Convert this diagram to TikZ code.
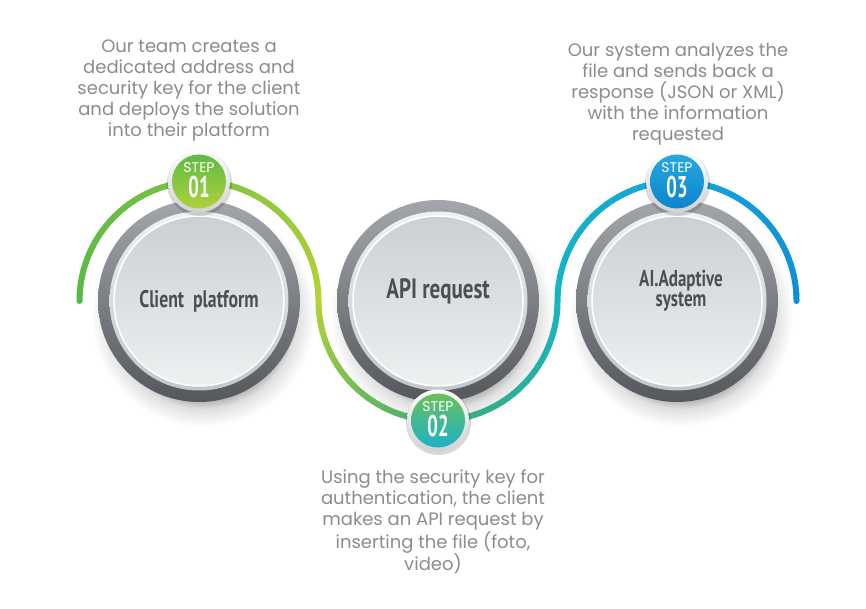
\documentclass[tikz,border=0pt]{standalone}
\usepackage{fontspec}
\usepackage{graphicx}
\newfontfamily\descfont{Poppins}
\newfontfamily\labfont{PT Sans}
\definecolor{g0}{HTML}{56B947}
\definecolor{g1}{HTML}{7CC243}
\definecolor{g2}{HTML}{B5D334}
\definecolor{g3}{HTML}{3FAA78}
\definecolor{g4}{HTML}{16B6C2}
\definecolor{g5}{HTML}{13A6D6}
\definecolor{g6}{HTML}{0E8ED8}
\definecolor{ringtop}{HTML}{A3A7AC}
\definecolor{ringbot}{HTML}{54585D}
\definecolor{bevtop}{HTML}{EEF0F1}
\definecolor{bevbot}{HTML}{C3C7CB}
\definecolor{intop}{HTML}{CBD0D4}
\definecolor{inbot}{HTML}{EEF0F1}
\definecolor{desctext}{HTML}{8C8C8C}
\definecolor{labtext}{HTML}{4B4E53}
\definecolor{bada}{HTML}{5FBB46}
\definecolor{badb}{HTML}{AED23B}
\definecolor{badc}{HTML}{6CC05A}
\definecolor{badd}{HTML}{1CB2C8}
\definecolor{bade}{HTML}{27A8E0}
\definecolor{badf}{HTML}{0B84CC}
\pgfdeclareradialshading{softshadow}{\pgfpoint{0bp}{0bp}}{color(0bp)=(black!30); color(19bp)=(black!30); color(21bp)=(black!12); color(25bp)=(white); color(50bp)=(white)}
\begin{document}
\begin{tikzpicture}[x=1pt,y=1pt,
  desc/.style={font=\descfont\fontsize{18}{21}\selectfont, text=desctext, align=center},
  lab/.style={text=labtext, align=center},
  ]
\useasboundingbox (0,0) rectangle (866,609);
\fill[white] (0,0) rectangle (866,609);
\coordinate (c1) at (199,308);
\coordinate (c2) at (438,308);
\coordinate (c3) at (677,308);
% shadows
\foreach \c in {c1,c2,c3}
  \shade[shading=softshadow] ([shift={(4,-14)}]\c) circle (112);
% gradient arc
\foreach \cx/\sa/\ea/\cA/\cB in {199/180/90/g0/g1, 199/90/0/g1/g2, 438/180/270/g2/g3, 438/270/360/g3/g4, 677/180/90/g4/g5, 677/90/0/g5/g6}{
  \foreach \k in {0,...,29}{
    \pgfmathsetmacro\aa{\sa+(\ea-\sa)*\k/30}
    \pgfmathsetmacro\ab{\sa+(\ea-\sa)*(\k+1)/30}
    \pgfmathtruncatemacro\pp{100*(\k+0.5)/30}
    \colorlet{segc}{\cB!\pp!\cA}
    \draw[segc, line width=6, line cap=round] ({\cx+119.5*cos(\aa)},{308+119.5*sin(\aa)}) arc[start angle=\aa, end angle=\ab, radius=119.5];
  }
}
% circles
\foreach \c in {c1,c2,c3}{
  \shade[top color=ringtop, bottom color=ringbot] (\c) circle (101);
  \shade[top color=bevtop, bottom color=bevbot] (\c) circle (89.5);
  \shade[top color=intop, bottom color=inbot] (\c) circle (85);
  \draw[white, line width=1.5] (\c) circle (85);
}
% labels
\node[lab, font=\labfont\bfseries\fontsize{24}{24}\selectfont] (l1) at (199,308) {\scalebox{0.74}[1]{Client\ \ platform}};
\node[lab, font=\labfont\bfseries\fontsize{28}{28}\selectfont] (l2) at (438,318) {\scalebox{0.75}[1]{API request}};
\node[lab, font=\labfont\bfseries\fontsize{23}{20}\selectfont] (l3) at (681,318) {\scalebox{0.74}[1]{AI.Adaptive}\\\scalebox{0.74}[1]{system}};
% badges
\foreach \n/\x/\y/\ta/\tb/\num in {b1/199/427.5/bada/badb/01, b2/438/188.5/badc/badd/02, b3/677/427.5/bade/badf/03}{
  \fill[black, opacity=0.15] (\x+0.5,\y-2) circle (32.5);
  \shade[top color=white, bottom color=black!18] (\x,\y) circle (31);
  \shade[top color=\ta, bottom color=\tb] (\x,\y) circle (27);
  \node[font=\descfont\fontsize{14}{14}\selectfont, text=white, inner sep=0pt] (\n s) at (\x,\y+13.5) {STEP};
  \node[font=\labfont\bfseries\fontsize{30}{30}\selectfont, text=white, inner sep=0pt] (\n n) at (\x,\y-5.5) {\scalebox{0.62}[1]{\num}};
}
% descriptions
\node[desc] (t1) at (189,518.5) {Our team creates a\\dedicated address and\\security key for the client\\and deploys the solution\\into their platform};
\node[desc] (t3) at (678,514.5) {Our system analyzes the\\file and sends back a\\response (JSON or XML)\\with the information\\requested};
\node[desc] (t2) at (433,87) {Using the security key for\\authentication, the client\\makes an API request by\\inserting the file (foto,\\video)};
\end{tikzpicture}
\end{document}
